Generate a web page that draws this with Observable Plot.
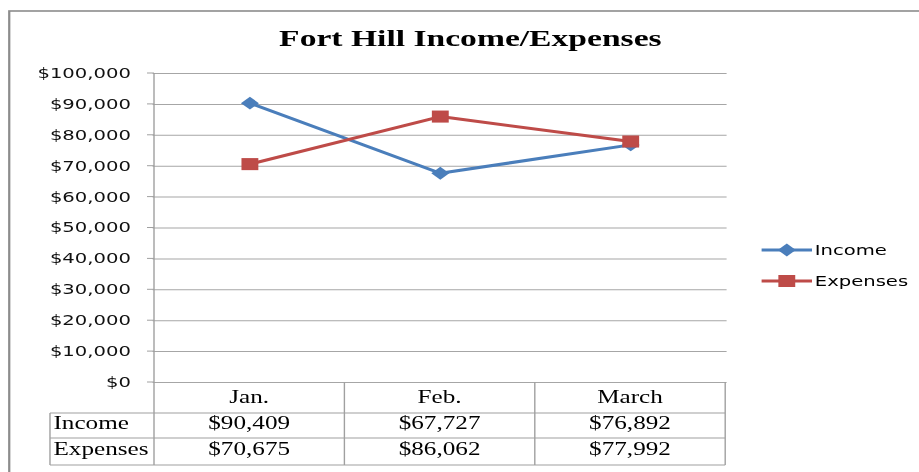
<!DOCTYPE html>
<html><head><meta charset="utf-8">
<script src="https://cdn.jsdelivr.net/npm/d3@7"></script>
<script src="https://cdn.jsdelivr.net/npm/@observablehq/plot@0.6"></script>
<style>
html,body{margin:0;padding:0;background:#fff;overflow:hidden}
#wrap{width:656px;height:472px;transform:scaleX(1.4);transform-origin:0 0;position:relative}
</style></head><body><div id="wrap"></div>
<script>
const title = "Fort Hill Income/Expenses";
const months = ["Jan.", "Feb.", "March"];
const income = [90409, 67727, 76892];
const expenses = [70675, 86062, 77992];
const seriesNames = ["Income", "Expenses"];
const seriesColors = ["#4A7EBB", "#BE4B48"];
const yTicks = [0, 10000, 20000, 30000, 40000, 50000, 60000, 70000, 80000, 90000, 100000];

const fmt = d => "$" + d3.format(",")(d);
const rows = months.flatMap((m, i) => [
  {month: m, series: "Income", value: income[i]},
  {month: m, series: "Expenses", value: expenses[i]}
]);
const inc = rows.filter(d => d.series === "Income");
const exp = rows.filter(d => d.series === "Expenses");
const grid = "#a6a6a6";

const plot = Plot.plot({
  width: 656, height: 472,
  marginTop: 73, marginBottom: 90, marginLeft: 109, marginRight: 137,
  style: {fontFamily: "DejaVu Sans", fontSize: "14px", color: "#000", background: "transparent", overflow: "visible"},
  x: {type: "point", domain: months, padding: 0.5, axis: null},
  y: {domain: [0, 100000], axis: null},
  color: {domain: seriesNames, range: seriesColors},
  marks: [
    Plot.gridY(yTicks, {stroke: grid, strokeOpacity: 1, strokeWidth: 1}),
    Plot.axisY(yTicks, {tickFormat: fmt, tickSize: 0, tickPadding: 16, label: null, fill: "#111", fontSize: 14}),
    Plot.line(inc, {x: "month", y: "value", stroke: "series", strokeWidth: 3}),
    Plot.dot(inc, {x: "month", y: "value", fill: "series", symbol: "diamond2", r: 5.8}),
    Plot.line(exp, {x: "month", y: "value", stroke: "series", strokeWidth: 3}),
    Plot.dot(exp, {x: "month", y: "value", fill: "series", symbol: "square", r: 6.8})
  ]
});
document.getElementById("wrap").appendChild(plot);

const svg = d3.select(plot);
const xs = plot.scale("x"), ys = plot.scale("y"), cs = plot.scale("color");
const cx = months.map(m => xs.apply(m));
const half = (cx[1] - cx[0]) / 2;
const left = cx[0] - half, right = cx[cx.length - 1] + half;
const y0 = ys.apply(0), yTop = ys.apply(100000);
const labelLeft = 35.7;
const rowBottoms = [y0 + 31, y0 + 56, y0 + 83];
const g = svg.append("g").attr("stroke", "#a0a0a0").attr("stroke-width", 1).attr("fill", "none");

// chart border
svg.insert("rect", ":first-child").attr("x", 6.6).attr("y", 11).attr("width", 700).attr("height", 500)
  .attr("fill", "none").attr("stroke", "#8c8c8c").attr("stroke-width", 1.6);

// y tick marks
yTicks.forEach(t => g.append("line").attr("x1", left - 5).attr("x2", left).attr("y1", ys.apply(t)).attr("y2", ys.apply(t)));

// axis line + table verticals
g.append("line").attr("x1", left).attr("x2", left).attr("y1", yTop).attr("y2", rowBottoms[2]);
months.forEach((m, i) => {
  const xb = cx[i] + half;
  g.append("line").attr("x1", xb).attr("x2", xb).attr("y1", y0).attr("y2", rowBottoms[2]);
});
g.append("line").attr("x1", labelLeft).attr("x2", labelLeft).attr("y1", rowBottoms[0]).attr("y2", rowBottoms[2]);
rowBottoms.forEach(yb => g.append("line").attr("x1", labelLeft).attr("x2", right).attr("y1", yb).attr("y2", yb));

// table text
const tt = svg.append("g").attr("font-family", "Liberation Serif, Times New Roman, serif").attr("font-size", 18).attr("fill", "#000");
months.forEach((m, i) => {
  tt.append("text").attr("x", cx[i]).attr("y", y0 + 21).attr("text-anchor", "middle").text(m);
  tt.append("text").attr("x", cx[i]).attr("y", y0 + 47).attr("text-anchor", "middle").text(fmt(income[i]));
  tt.append("text").attr("x", cx[i]).attr("y", y0 + 73).attr("text-anchor", "middle").text(fmt(expenses[i]));
});
tt.append("text").attr("x", labelLeft + 2.5).attr("y", y0 + 47).attr("text-anchor", "start").text(seriesNames[0]);
tt.append("text").attr("x", labelLeft + 2.5).attr("y", y0 + 73).attr("text-anchor", "start").text(seriesNames[1]);

// title
svg.append("text").attr("x", 336).attr("y", 46).attr("text-anchor", "middle")
  .attr("font-family", "Liberation Serif, Times New Roman, serif").attr("font-weight", "bold").attr("font-size", 24)
  .attr("fill", "#000").text(title);

// legend
const lg = svg.append("g");
const symbols = [d3.symbolDiamond2, d3.symbolSquare];
const symSizes = [Math.PI * 5.8 * 5.8, Math.PI * 6.8 * 6.8];
seriesNames.forEach((s, i) => {
  const ly = 250 + i * 31;
  const col = cs.apply(s);
  lg.append("line").attr("x1", 544).attr("x2", 580).attr("y1", ly).attr("y2", ly).attr("stroke", col).attr("stroke-width", 3);
  lg.append("path").attr("transform", `translate(562,${ly})`).attr("d", d3.symbol(symbols[i], symSizes[i])()).attr("fill", col);
  lg.append("text").attr("x", 582).attr("y", ly + 5).attr("text-anchor", "start")
    .attr("font-family", "DejaVu Sans").attr("font-size", 14).attr("fill", "#000").text(s);
});
</script></body></html>
